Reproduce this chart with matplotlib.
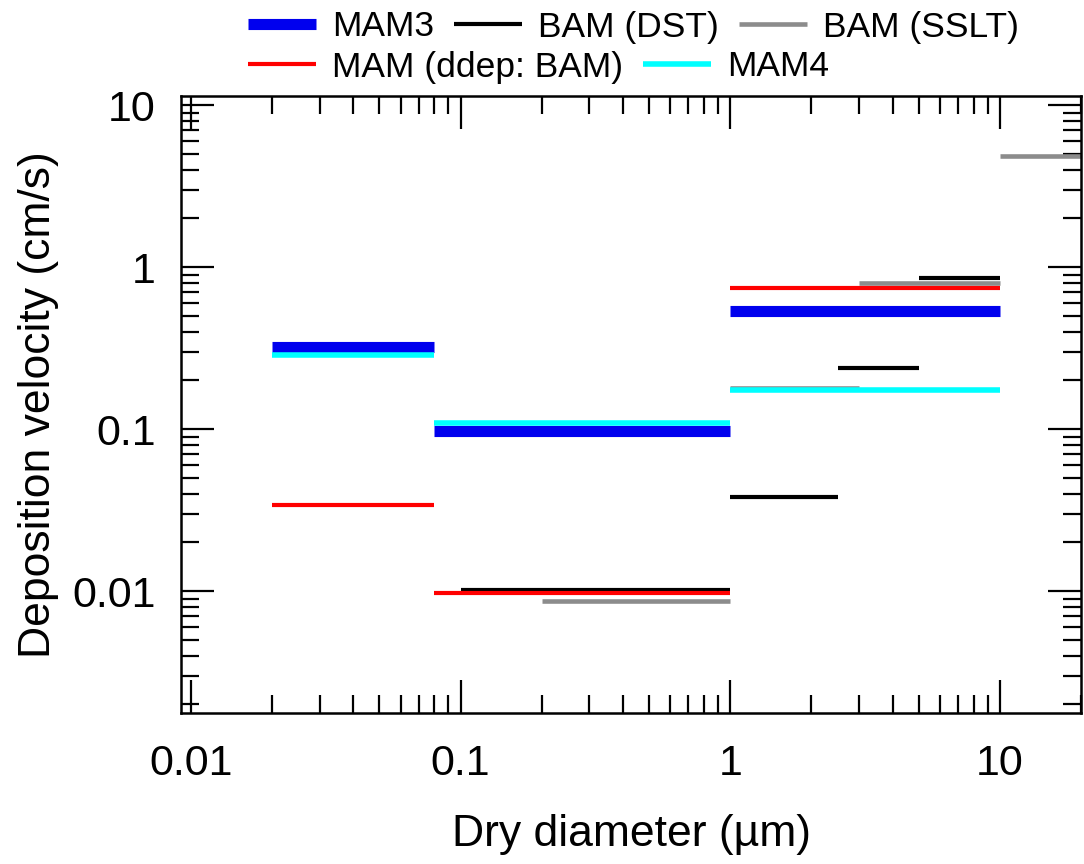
import numpy as np
import matplotlib
matplotlib.use('Agg')
import matplotlib.pyplot as plt
from matplotlib import ticker

plt.rcParams['font.family'] = ['Liberation Sans', 'DejaVu Sans']

# Size bins (dry diameter, um) and deposition velocities (cm/s)
mam_edges = [0.02, 0.08, 1.0, 10.0]
mam3 = [0.32, 0.097, 0.535]
mam4 = [0.286, 0.109, 0.174]
mam_ddep_bam = [0.034, 0.0097, 0.74]

dst_edges = [0.1, 1.0, 2.5, 5.0, 10.0]
bam_dst = [0.0102, 0.038, 0.238, 0.855]

sslt_edges = [0.2, 1.0, 3.0, 10.0, 20.0]
bam_sslt = [0.0087, 0.18, 0.80, 4.84]

x_ticks = [0.01, 0.1, 1, 10]
y_ticks = [0.01, 0.1, 1, 10]


def steps(ax, edges, values, **kw):
    edges = np.asarray(edges)
    return ax.hlines(values, edges[:-1], edges[1:], **kw)


fig = plt.figure(figsize=(10.84, 8.64), dpi=100)
ax = fig.add_axes([181/1084, 1 - 713/864, 900/1084, (713 - 96)/864])

h_mam3 = steps(ax, mam_edges, mam3, colors='#0000ee', linewidth=8, label='MAM3')
h_dst = steps(ax, dst_edges, bam_dst, colors='black', linewidth=3, label='BAM (DST)')
h_sslt = steps(ax, sslt_edges, bam_sslt, colors='#8c8c8c', linewidth=3.3, label='BAM (SSLT)')
h_ddep = steps(ax, mam_edges, mam_ddep_bam, colors='#ff0000', linewidth=3, label='MAM (ddep: BAM)')
h_mam4 = steps(ax, mam_edges, mam4, colors='#00ffff', linewidth=4, label='MAM4')

ax.set_xscale('log')
ax.set_yscale('log')
ax.set_xlim(0.00918, 20)
ax.set_ylim(0.00177, 11.4)

for axis in (ax.xaxis, ax.yaxis):
    axis.set_major_formatter(ticker.FuncFormatter(lambda v, _: f'{v:g}'))
    axis.set_minor_locator(ticker.LogLocator(base=10, subs=np.arange(2, 10)))
    axis.set_minor_formatter(ticker.NullFormatter())
ax.set_xticks(x_ticks)
ax.set_yticks(y_ticks)

ax.tick_params(which='both', direction='in', top=True, right=True, width=1.6)
ax.tick_params(which='major', length=24, labelsize=31)
ax.tick_params(axis='x', which='major', pad=22)
ax.tick_params(axis='y', which='major', pad=18)
ax.tick_params(which='minor', length=13)
for sp in ax.spines.values():
    sp.set_linewidth(1.8)

ax.set_xlabel('Dry diameter (µm)', fontsize=32, labelpad=22)
ax.set_ylabel('Deposition velocity (cm/s)', fontsize=32, labelpad=10)

leg_kw = dict(frameon=False, fontsize=25.5, handlelength=1.93, handletextpad=0.45,
              columnspacing=0.55, borderpad=0, borderaxespad=0, loc='center left')
fig.legend([h_mam3, h_dst, h_sslt], ['MAM3', 'BAM (DST)', 'BAM (SSLT)'], ncol=3,
           bbox_to_anchor=(248/1084, 1 - 27/864), **leg_kw)
fig.legend([h_ddep, h_mam4], ['MAM (ddep: BAM)', 'MAM4'], ncol=2,
           bbox_to_anchor=(248/1084, 1 - 67/864), **leg_kw)

fig.savefig('out.png', dpi=100, facecolor='white')
